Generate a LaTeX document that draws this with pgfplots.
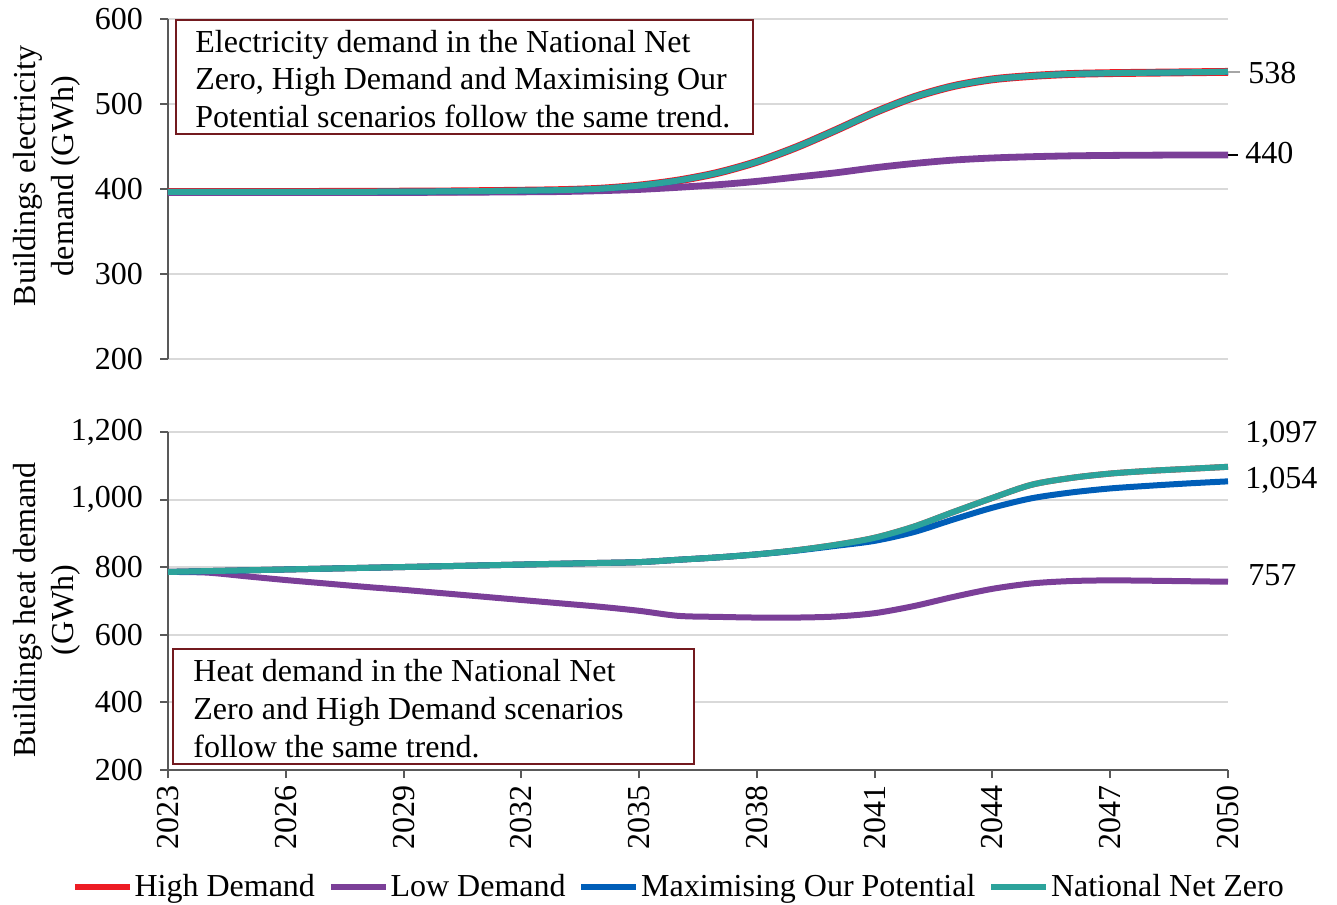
\documentclass[border=0pt]{standalone}
\usepackage{fontspec}
\setmainfont{Liberation Serif}
\usepackage{pgfplots}
\pgfplotsset{compat=1.18}
\definecolor{hd}{HTML}{ED1C24}
\definecolor{ld}{HTML}{7B3F98}
\definecolor{mop}{HTML}{005EB8}
\definecolor{nnz}{HTML}{2CA39B}
\definecolor{boxred}{HTML}{731A1F}
\definecolor{axgray}{HTML}{595959}
\definecolor{gridgray}{HTML}{D9D9D9}
\tikzset{lab/.style={font=\fontsize{16}{19}\selectfont, anchor=west, inner sep=0pt}}
\pgfplotsset{
  common/.style={
    scale only axis, width=530pt, xmin=2023, xmax=2050, clip=false,
    axis line style={axgray, line width=1pt},
    ymajorgrids, grid style={gridgray, line width=1pt},
    tick style={axgray, line width=1pt}, tick align=outside, major tick length=4pt,
    ticklabel style={font=\fontsize{16}{19}\selectfont},
    /pgf/number format/assume math mode=true,
    /pgf/number format/1000 sep={,},
    ylabel style={font=\fontsize{16}{19}\selectfont, align=center, anchor=center},
    yticklabel style={xshift=-5pt},
    axis y line*=left,
  },
}
\begin{document}
\begin{tikzpicture}
\useasboundingbox (-84pt,-67pt) rectangle (584.5pt,385pt);
% ---------------- top axis ----------------
\begin{axis}[common,
  at={(0pt,205.5pt)}, anchor=south west, height=170pt,
  ymin=200, ymax=600, ytick={200,300,400,500,600},
  axis x line=none,
  ylabel={Buildings electricity\\demand (GWh)},
  ylabel style={at={(axis description cs:-0.1143,0.538)}},
]
\addplot[hd, line width=3.9pt, smooth] coordinates {
(2023,396.5)(2024,396.5)(2025,396.5)(2026,396.5)(2027,396.6)(2028,396.7)(2029,396.9)(2030,397.1)
(2031,397.5)(2032,398)(2033,398.7)(2034,400.3)(2035,404)(2036,410)(2037,419)(2038,432)
(2039,449)(2040,469)(2041,490)(2042,508)(2043,521)(2044,529)(2045,533)(2046,535.3)
(2047,536.3)(2048,536.8)(2049,537.3)(2050,537.8)};
\addplot[ld, line width=3.4pt, smooth] coordinates {
(2023,395.8)(2024,395.8)(2025,395.8)(2026,395.8)(2027,395.8)(2028,395.9)(2029,396)(2030,396.1)
(2031,396.3)(2032,396.6)(2033,397)(2034,398)(2035,399.5)(2036,402)(2037,405)(2038,409)
(2039,414)(2040,419)(2041,425)(2042,430)(2043,434)(2044,436.5)(2045,438)(2046,439)
(2047,439.5)(2048,439.8)(2049,440)(2050,440)};
\addplot[mop, line width=3pt, smooth] coordinates {
(2023,396.5)(2024,396.5)(2025,396.5)(2026,396.5)(2027,396.6)(2028,396.7)(2029,396.9)(2030,397.1)
(2031,397.5)(2032,398)(2033,398.7)(2034,400.3)(2035,404)(2036,410)(2037,419)(2038,432)
(2039,449)(2040,469)(2041,490)(2042,508)(2043,521)(2044,529)(2045,533)(2046,535.3)
(2047,536.3)(2048,536.8)(2049,537.3)(2050,537.8)};
\addplot[nnz, line width=3pt, smooth] coordinates {
(2023,396.5)(2024,396.5)(2025,396.5)(2026,396.5)(2027,396.6)(2028,396.7)(2029,396.9)(2030,397.1)
(2031,397.5)(2032,398)(2033,398.7)(2034,400.3)(2035,404)(2036,410)(2037,419)(2038,432)
(2039,449)(2040,469)(2041,490)(2042,508)(2043,521)(2044,529)(2045,533)(2046,535.3)
(2047,536.3)(2048,536.8)(2049,537.3)(2050,538)};
\draw[gray!70, line width=1pt] (axis cs:2050,538) -- ++(6pt,0pt);
\draw[black, line width=1pt] (axis cs:2050,440) -- ++(5pt,0pt);
\node[lab] at (axis cs:2050,537) [xshift=10pt] {538};
\node[lab] at (axis cs:2050,442) [xshift=8.5pt] {440};
\node[draw=boxred, line width=1pt, fill=white, anchor=north west,
      minimum width=288.5pt, minimum height=57pt, inner sep=0pt]
      (tb) at (rel axis cs:0.0066,1) {};
\node[anchor=west, align=left, inner sep=0pt, font=\fontsize{16}{18.75}\selectfont]
      at ([xshift=10pt,yshift=-1pt]tb.west)
      {Electricity demand in the National Net\\Zero, High Demand and Maximising Our\\Potential scenarios follow the same trend.};
\end{axis}
% ---------------- bottom axis ----------------
\begin{axis}[common,
  at={(0pt,0pt)}, anchor=south west, height=169pt,
  ymin=200, ymax=1200, ytick={200,400,600,800,1000,1200},
  axis x line*=bottom,
  xtick={2023,2026,2029,2032,2035,2038,2041,2044,2047,2050},
  xticklabel style={rotate=90, anchor=east, /pgf/number format/1000 sep={}},
  ylabel={Buildings heat demand\\(GWh)},
  ylabel style={at={(axis description cs:-0.1143,0.473)}},
  legend columns=4,
  legend style={at={(0.4816,-0.346)}, anchor=center, draw=none, fill=none,
     font=\fontsize{16}{19}\selectfont, inner sep=0pt, nodes={inner sep=0.8pt},
     /tikz/every even column/.append style={column sep=5.5pt}},
  legend cell align=left,
  legend image code/.code={\draw[#1, line width=3.2pt] (0pt,0pt) -- (27.5pt,0pt);},
]
\addplot[hd, line width=3pt, smooth] coordinates {
(2023,786)(2024,788.4)(2025,790.8)(2026,793.3)(2027,795.7)(2028,798.1)(2029,800.5)(2030,802.9)
(2031,805.3)(2032,807.8)(2033,810.2)(2034,812.6)(2035,815)(2036,822)(2037,829)(2038,838)
(2039,850)(2040,866)(2041,887)(2042,920)(2043,963)(2044,1005)(2045,1044)(2046,1064)
(2047,1077)(2048,1085)(2049,1091)(2050,1097)};
\addlegendentry{High Demand}
\addplot[ld, line width=3pt, smooth] coordinates {
(2023,786)(2024,784)(2025,773)(2026,762)(2027,752)(2028,742)(2029,733)(2030,723)
(2031,713)(2032,703)(2033,693)(2034,683)(2035,671)(2036,656)(2037,653)(2038,651)
(2039,651)(2040,654)(2041,664)(2042,685)(2043,712)(2044,736)(2045,752)(2046,759)
(2047,761)(2048,760)(2049,758.5)(2050,757)};
\addlegendentry{Low Demand}
\addplot[mop, line width=3pt, smooth] coordinates {
(2023,786)(2024,788.4)(2025,790.8)(2026,793.3)(2027,795.7)(2028,798.1)(2029,800.5)(2030,802.9)
(2031,805.3)(2032,807.8)(2033,810.2)(2034,812.6)(2035,815)(2036,822)(2037,829)(2038,838)
(2039,849)(2040,863)(2041,878)(2042,904)(2043,941)(2044,976)(2045,1004)(2046,1021)
(2047,1033)(2048,1041)(2049,1048)(2050,1054)};
\addlegendentry{Maximising Our Potential}
\addplot[nnz, line width=3pt, smooth] coordinates {
(2023,786)(2024,788.4)(2025,790.8)(2026,793.3)(2027,795.7)(2028,798.1)(2029,800.5)(2030,802.9)
(2031,805.3)(2032,807.8)(2033,810.2)(2034,812.6)(2035,815)(2036,822)(2037,829)(2038,838)
(2039,850)(2040,866)(2041,887)(2042,920)(2043,963)(2044,1005)(2045,1044)(2046,1064)
(2047,1077)(2048,1085)(2049,1091)(2050,1097)};
\addlegendentry{National Net Zero}
\node[lab] at (axis cs:2050,1194) [xshift=8.5pt] {1,097};
\node[lab] at (axis cs:2050,1058) [xshift=8.5pt] {1,054};
\node[lab] at (axis cs:2050,777) [xshift=10pt] {757};
\node[draw=boxred, line width=1pt, fill=white, anchor=north west,
      minimum width=260.5pt, minimum height=57.5pt, inner sep=0pt]
      (bb) at (rel axis cs:0.0038,0.36) {};
\node[anchor=west, align=left, inner sep=0pt, font=\fontsize{16}{19}\selectfont]
      at ([xshift=10.5pt,yshift=-1pt]bb.west)
      {Heat demand in the National Net\\Zero and High Demand scenarios\\follow the same trend.};
\end{axis}
\end{tikzpicture}
\end{document}
